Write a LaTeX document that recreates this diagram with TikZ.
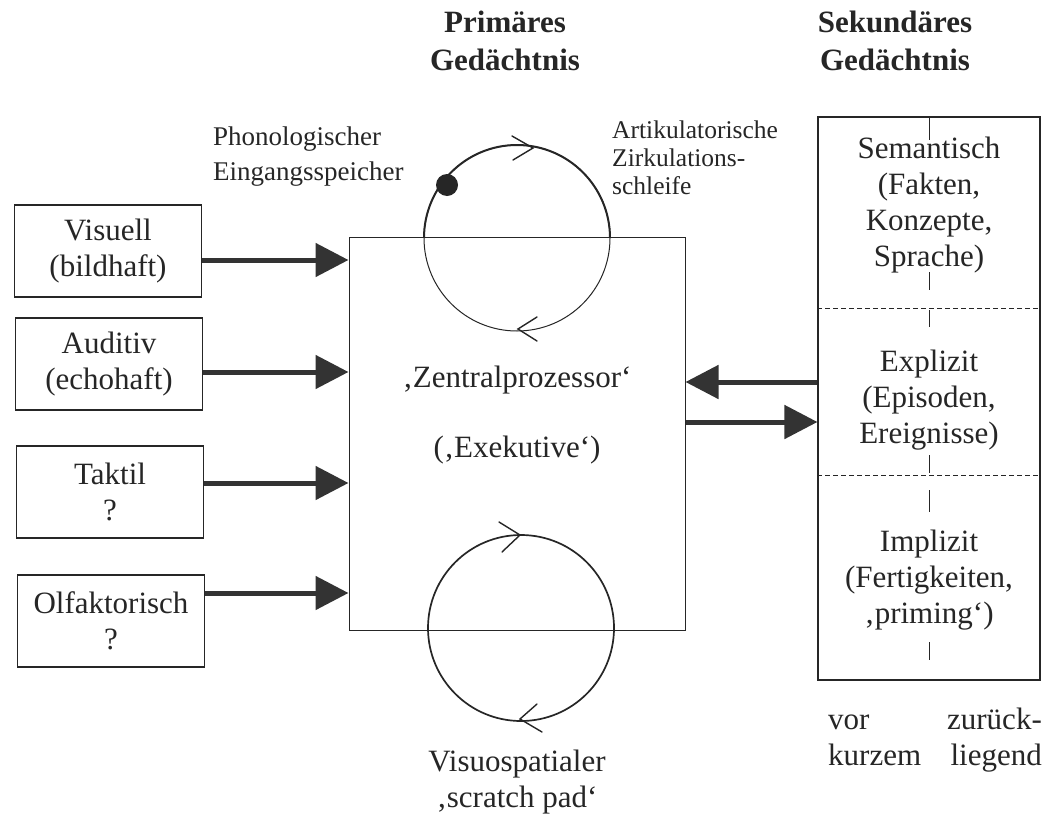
\documentclass[tikz,border=0pt]{standalone}
\usepackage{fontspec}
\setmainfont{Liberation Serif}
\usetikzlibrary{arrows.meta}
\begin{document}
\begin{tikzpicture}[x=1pt,y=-1pt,
  ink/.style={black!85},
  txt/.style={font=\fontsize{31}{36}\selectfont, align=center, inner sep=0pt, text=black!85},
  small/.style={font=\fontsize{25.5}{28}\selectfont, align=left, inner sep=0pt, text=black!85},
  ttl/.style={font=\fontsize{31}{38}\selectfont\bfseries, align=center, inner sep=0pt, text=black!85},
  sbox/.style={draw=black!85, line width=1.1pt, minimum width=187pt, minimum height=92pt, inner sep=0pt},
  bigarrow/.style={draw=black!80, line width=5pt, -{Triangle[length=33pt,width=33pt]}},
  chev/.style={draw=black!85, line width=1.4pt, line cap=round, line join=miter}
]
\useasboundingbox (0,0) rectangle (1056,819);
\fill[white] (0,0) rectangle (1056,819);

% titles
\node[ttl] (t1) at (505,41) {Primäres\\Gedächtnis};
\node[ttl] (t2) at (895,41) {Sekundäres\\Gedächtnis};

% left sensory boxes
\node[sbox] (vis) at (108,251) {};
\node[txt] at (vis) {Visuell\\(bildhaft)};
\node[sbox] (aud) at (109,364) {};
\node[txt] at (aud) {Auditiv\\(echohaft)};
\node[sbox] (tak) at (110,492) {};
\node[txt] at (tak) {Taktil\\?};
\node[sbox] (olf) at (111,621) {};
\node[txt] at (olf) {Olfaktorisch\\?};

% central processor
\node[draw=black!85, line width=1pt, minimum width=336pt, minimum height=393pt, inner sep=0pt] (cpu) at (517,433.5) {};
\node[txt] (zp) at (517,380) {‚Zentralprozessor‘};
\node[txt] (ex) at (517,450) {(‚Exekutive‘)};

% loops
\draw[ink, line width=1pt] (517,238) circle[radius=93];
\draw[ink, line width=2pt] (424,238) arc[start angle=180,end angle=360,radius=93];
\fill[black!85] (447,185) circle[radius=11];
\draw[chev] (512,136) -- (533,148) -- (513,160);
\draw[chev] (537,317) -- (518,329) -- (537,341);

\draw[ink, line width=1.7pt] (521,628) circle[radius=93];
\draw[chev] (499,522) -- (520,535) -- (502,552);
\draw[chev] (537,704) -- (520,719) -- (542,732);

% loop labels
\node[small, anchor=west, font=\fontsize{27}{35}\selectfont] (phon) at (213,157) {Phonologischer\\Eingangsspeicher};
\node[small, anchor=west] (art) at (612,158) {Artikulatorische\\Zirkulations-\\schleife};
\node[txt] (vsp) at (517,782) {Visuospatialer\\‚scratch pad‘};

% secondary memory
\node[draw=black!85, line width=1.1pt, minimum width=222pt, minimum height=563pt, inner sep=0pt] (mem) at (929,398.5) {};
\draw[ink, line width=0.9pt, dashed, dash pattern=on 5pt off 3pt] (mem.west |- 0,308) -- (mem.east |- 0,308);
\draw[ink, line width=0.9pt, dashed, dash pattern=on 5pt off 3pt] (mem.west |- 0,475) -- (mem.east |- 0,475);
\foreach \a/\b in {117/140, 272/290, 310/327, 455/473, 490/512, 642/660}
  \draw[ink, line width=1pt] (929,\a) -- (929,\b);
\node[txt] (sem) at (929,205) {Semantisch\\(Fakten,\\Konzepte,\\Sprache)};
\node[txt] (epi) at (929,400) {Explizit\\(Episoden,\\Ereignisse)};
\node[txt] (imp) at (929,580) {Implizit\\(Fertigkeiten,\\‚priming‘)};
\node[txt, anchor=west, align=left] (vor) at (828,740) {vor\\kurzem};
\node[txt, anchor=east, align=right] (zur) at (1042,740) {zurück-\\liegend};

% arrows
\draw[bigarrow] (vis.east |- 0,260) -- (cpu.west |- 0,260);
\draw[bigarrow] (aud.east |- 0,372) -- (cpu.west |- 0,372);
\draw[bigarrow] (tak.east |- 0,483) -- (cpu.west |- 0,483);
\draw[bigarrow] (olf.east |- 0,593) -- (cpu.west |- 0,593);
\draw[bigarrow] (mem.west |- 0,382) -- (cpu.east |- 0,382);
\draw[bigarrow] (cpu.east |- 0,422) -- (mem.west |- 0,422);
\end{tikzpicture}
\end{document}
